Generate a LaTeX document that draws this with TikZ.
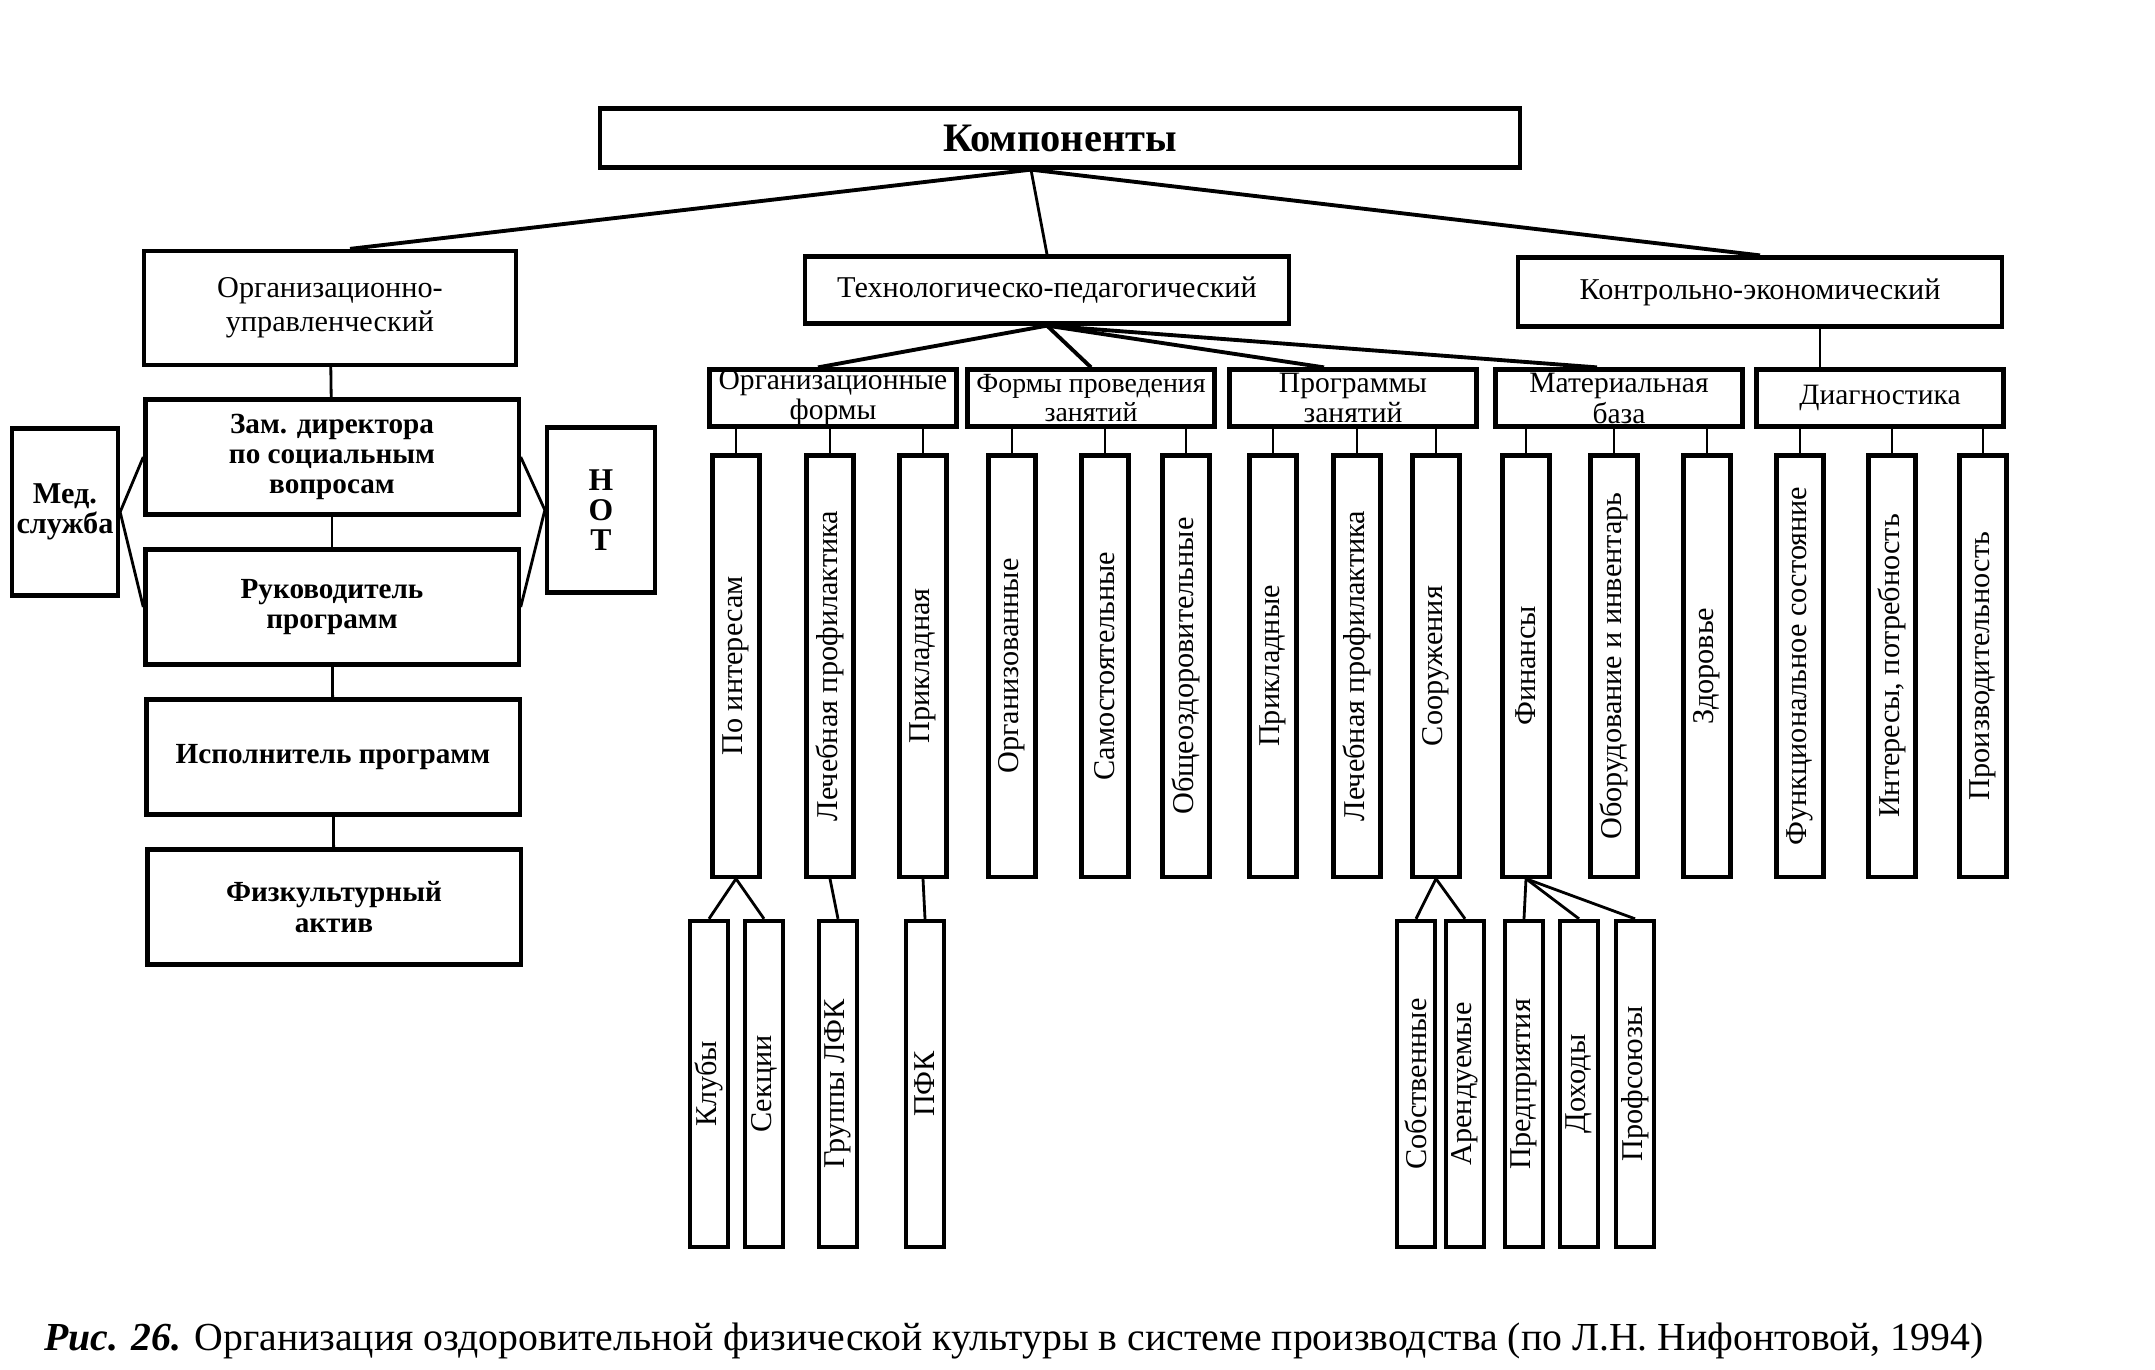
\documentclass[tikz,border=0pt]{standalone}
\usepackage{fontspec}
\setmainfont{Liberation Serif}
\newcommand{\vertext}[1]{\rotatebox{90}{#1}}
\begin{document}
\begin{tikzpicture}[x=0.01cm,y=-0.01cm,
    box/.style={draw, line width=1.2pt, inner sep=0pt, align=center,
      font=\fontsize{8.6}{8.6}\selectfont},
    lbox/.style={box, minimum width=3.73cm, minimum height=1.15cm,
      font=\fontsize{8.3}{8.6}\selectfont\bfseries},
    hbox/.style={box, minimum width=2.47cm, minimum height=0.57cm,
      font=\fontsize{8.4}{6.8}\selectfont},
    vbox/.style={box, minimum width=0.47cm, minimum height=4.21cm},
    sbox/.style={box, minimum width=0.38cm, minimum height=3.26cm},
    link/.style={line width=0.8pt},
    main link/.style={line width=1.1pt}]
  \useasboundingbox (0,0) rectangle (2155,1369);

  % Top level
  \node[box, minimum width=9.19cm, minimum height=0.59cm,
    font=\fontsize{11.5}{12}\selectfont\bfseries] (komp) at (1060,138) {Компоненты};
  \node[box, minimum width=3.72cm, minimum height=1.14cm] (orgupr) at (330,308)
    {Организационно-\\[1pt]управленческий};
  \node[box, minimum width=4.84cm, minimum height=0.67cm] (tech) at (1047,290)
    {Технологическо-педагогический};
  \node[box, minimum width=4.84cm, minimum height=0.69cm] (kontr) at (1760,292)
    {Контрольно-экономический};
  \coordinate (kroot) at ([xshift=-0.29cm]komp.south);
  \draw[main link] (kroot) -- ([xshift=0.2cm]orgupr.north);
  \draw[link] (kroot) -- (tech.north);
  \draw[main link] (kroot) -- (kontr.north);

  % Left column
  \node[lbox] (zam) at (332,457) {Зам. директора\\по социальным\\вопросам};
  \node[lbox] (ruk) at (332,607) {Руководитель\\программ};
  \node[lbox] (isp) at (333,757) {Исполнитель программ};
  \node[lbox] (fiz) at (334,907) {Физкультурный\\актив};
  \node[box, minimum width=1.06cm, minimum height=1.67cm,
    font=\fontsize{8.6}{8.6}\selectfont\bfseries] (med) at (65,512) {Мед.\\служба};
  \node[box, minimum width=1.08cm, minimum height=1.65cm,
    font=\fontsize{9}{8.6}\selectfont\bfseries] (not) at (601,510) {Н\\О\\Т};
  \draw[link] (orgupr) -- (zam);
  \draw[link] (zam) -- (ruk);
  \draw[link] (ruk) -- (isp);
  \draw[link] (isp) -- (fiz);
  \draw[link] (zam.west) -- (med.east) -- (ruk.west);
  \draw[link] (zam.east) -- (not.west) -- (ruk.east);

  % Second level
  \node[hbox] (orgf) at (833,398) {Организационные\\формы};
  \node[hbox, font=\fontsize{7.9}{6.8}\selectfont] (form) at (1091,398) {Формы проведения\\занятий};
  \node[hbox] (prog) at (1353,398) {Программы\\занятий};
  \node[hbox] (mat) at (1619,398) {Материальная\\база};
  \node[hbox] (diag) at (1880,398) {Диагностика};
  \foreach \c/\s in {orgf/-0.15, form/0, prog/-0.29, mat/-0.22}
    \draw[main link] (tech.south) -- ([xshift=\s cm]\c.north);
  \coordinate (kd) at ([xshift=0.6cm]kontr.south);
  \draw[link] (kd) -- (kd |- diag.north);

  % Vertical boxes
  \foreach \n/\x/\t in {pi/736/По интересам, lech/830/Лечебная профилактика,
      prikl/923/Прикладная, orgz/1012/Организованные, samo/1105/Самостоятельные,
      obsh/1186/Общеоздоровительные, prikl2/1273/Прикладные,
      lech2/1357/Лечебная профилактика, soor/1436/Сооружения, fin/1526/Финансы,
      obor/1614/Оборудование и инвентарь, zdor/1707/Здоровье,
      func/1800/Функциональное состояние, inter/1892/{Интересы, потребность},
      proizv/1983/Производительность}
    \node[vbox] (\n) at (\x,666) {\vertext{\t}};
  \foreach \p/\c in {orgf/pi, orgf/lech, orgf/prikl, form/orgz, form/samo, form/obsh,
      prog/prikl2, prog/lech2, prog/soor, mat/fin, mat/obor, mat/zdor,
      diag/func, diag/inter, diag/proizv}
    \draw[link] (\c.north) -- (\c.north |- \p.south);

  % Bottom boxes
  \foreach \n/\x/\t in {klub/709/Клубы, sekc/764/Секции, grup/838/Группы ЛФК,
      pfk/925/ПФК, sobst/1416/Собственные, arend/1465/Арендуемые,
      pred/1524/Предприятия, doh/1579/Доходы, prof/1635/Профсоюзы}
    \node[sbox] (\n) at (\x,1084) {\vertext{\t}};
  \foreach \p/\c in {pi/klub, pi/sekc, lech/grup, prikl/pfk,
      soor/sobst, soor/arend, fin/pred, fin/doh, fin/prof}
    \draw[link] (\p.south) -- (\c.north);

  % Caption
  \node[font=\fontsize{11.3}{12}\selectfont] (caption) at (1014,1341)
    {\textbf{\textit{Рис. 26.}} Организация оздоровительной физической культуры в системе производства (по Л.Н. Нифонтовой, 1994)};
\end{tikzpicture}
\end{document}
